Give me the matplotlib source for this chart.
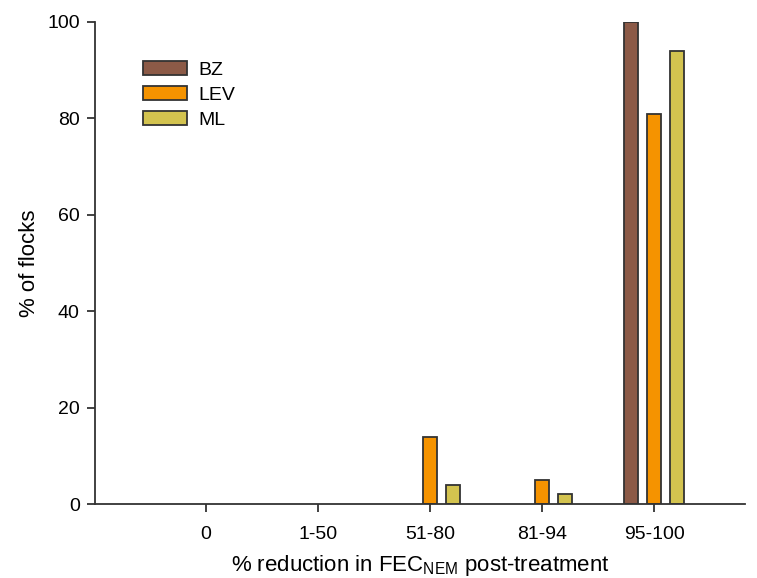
import numpy as np
from matplotlib import pyplot as plt
from matplotlib.patches import Patch

plt.rcParams['font.family'] = ['Liberation Sans', 'DejaVu Sans']
plt.rcParams['mathtext.fontset'] = 'custom'
plt.rcParams['mathtext.rm'] = 'Liberation Sans'
plt.rcParams['mathtext.it'] = 'Liberation Sans'

categories = ['0', '1-50', '51-80', '81-94', '95-100']
bz = [0, 0, 0, 0, 100]
lev = [0, 0, 14, 5, 81]
ml = [0, 0, 4, 2, 94]

series = [('BZ', bz, '#8c5a47'), ('LEV', lev, '#f59300'), ('ML', ml, '#d3c34f')]

fig = plt.figure(figsize=(7.57, 5.78), dpi=100)
ax = fig.add_axes([0.1255, 0.128, 0.8585, 0.834])

x = np.arange(len(categories))
width = 0.13
step = 0.205
handles = []
for i, (name, vals, col) in enumerate(series):
    bars = ax.bar(x + (i - 1) * step, vals, width, color=col, edgecolor='#333333',
                  linewidth=1.3)
    # empty classes show no bar at all
    for b, v in zip(bars, vals):
        if v == 0:
            b.set_visible(False)
    handles.append(Patch(facecolor=col, edgecolor='#333333', linewidth=1.3, label=name))

ax.set_xlim(-0.99, 4.81)
ax.set_ylim(0, 100)
ax.set_yticks([0, 20, 40, 60, 80, 100])
ax.set_xticks(x)
ax.set_xticklabels(categories)
ax.spines['top'].set_visible(False)
ax.spines['right'].set_visible(False)
for s in ['left', 'bottom']:
    ax.spines[s].set_linewidth(1.3)
    ax.spines[s].set_color('#333333')
ax.tick_params(axis='both', direction='out', length=6, width=1.3, color='#333333',
               labelsize=14, pad=5)
ax.tick_params(axis='x', pad=10)

ax.set_ylabel('% of flocks', fontsize=16, labelpad=5)
ax.set_xlabel('% reduction in FEC$_{\\mathrm{NEM}}$ post-treatment', fontsize=16, labelpad=7)

ax.legend(handles=handles, loc='upper left', bbox_to_anchor=(0.074, 0.918), frameon=False,
          fontsize=14, borderaxespad=0, borderpad=0,
          handlelength=2.25, handleheight=0.7, labelspacing=0.38, handletextpad=0.6)

fig.savefig('out.png', dpi=100)
